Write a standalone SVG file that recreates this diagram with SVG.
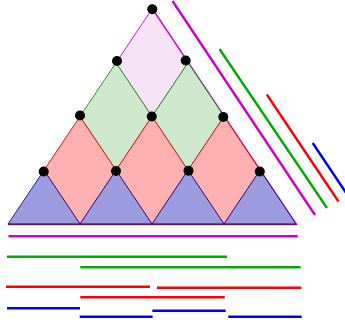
<svg xmlns="http://www.w3.org/2000/svg" width="345" height="323" viewBox="0 0 345 323">
<style>
.pu{fill:#f6e3f6;stroke:#c81ec8;stroke-width:1}
.gr{fill:#cde8cd;stroke:#2a9a2a;stroke-width:1}
.rd{fill:#ffb1b1;stroke:#f01010;stroke-width:1}
.bl{fill:#9b9bde;stroke:#2020a8;stroke-width:1}
.dot{fill:#000}
.l{fill:none;stroke-width:2.4;stroke-linecap:butt}
.m{stroke:#cc00cc}.g{stroke:#00aa00}.r{stroke:#ff0000}.b{stroke:#0000ff}
</style>
<rect width="345" height="323" fill="#fff"/>
<g id="outline">
<polyline points="152.8,9 296.8,224.6 8,224.6" fill="none" stroke="#c000c0" stroke-width="1.2"/>
</g>
<g id="shapes">
<polygon id="purple-diamond" class="pu" points="152,9 116,62.75 152,116.5 188,62.75"/>
<polygon id="green-diamond-1" class="gr" points="116,62.75 80,116.5 116,170.25 152,116.5"/>
<polygon id="green-diamond-2" class="gr" points="188,62.75 152,116.5 188,170.25 224,116.5"/>
<polygon id="red-diamond-1" class="rd" points="80,116.5 44,170.25 80,224 116,170.25"/>
<polygon id="red-diamond-2" class="rd" points="152,116.5 116,170.25 152,224 188,170.25"/>
<polygon id="red-diamond-3" class="rd" points="224,116.5 188,170.25 224,224 260,170.25"/>
<polygon id="blue-tri-1" class="bl" points="44,170.25 8,224 80,224"/>
<polygon id="blue-tri-2" class="bl" points="116,170.25 80,224 152,224"/>
<polygon id="blue-tri-3" class="bl" points="188,170.25 152,224 224,224"/>
<polygon id="blue-tri-4" class="bl" points="260,170.25 224,224 296,224"/>
<line x1="8" y1="224.3" x2="296" y2="224.3" stroke="#6a0a6a" stroke-width="1.2"/>
</g>
<g id="dots">
<circle class="dot" cx="152.3" cy="9.3" r="5"/>
<circle class="dot" cx="117" cy="61" r="5"/>
<circle class="dot" cx="185.7" cy="60.5" r="5"/>
<circle class="dot" cx="80" cy="115.5" r="5"/>
<circle class="dot" cx="151.8" cy="116.5" r="5"/>
<circle class="dot" cx="223.3" cy="117" r="5"/>
<circle class="dot" cx="43.7" cy="171.5" r="5"/>
<circle class="dot" cx="116" cy="171" r="5"/>
<circle class="dot" cx="188.5" cy="170.8" r="5"/>
<circle class="dot" cx="259.8" cy="171.5" r="5"/>
</g>
<g id="connectors">
<line class="l m" x1="172.5" y1="1" x2="315" y2="215"/>
<line class="l g" x1="219.5" y1="49" x2="327" y2="208"/>
<line class="l r" x1="266.8" y1="94.5" x2="338.5" y2="201.5"/>
<line class="l b" x1="312.7" y1="143" x2="348.7" y2="196.8"/>
<line class="l m" x1="8.5" y1="236.3" x2="297.7" y2="236.3"/>
<line class="l g" x1="7" y1="256.7" x2="227" y2="256.7"/>
<line class="l g" x1="80.3" y1="267.3" x2="300.7" y2="267.3"/>
<line class="l r" x1="6" y1="286.7" x2="150" y2="286.7"/>
<line class="l r" x1="157" y1="287.7" x2="301.3" y2="287.7"/>
<line class="l r" x1="80.3" y1="297.3" x2="224.7" y2="297.3"/>
<line class="l b" x1="7" y1="308.3" x2="80" y2="308.3"/>
<line class="l b" x1="79.7" y1="316.7" x2="152.7" y2="316.7"/>
<line class="l b" x1="152.3" y1="310.7" x2="225.7" y2="310.7"/>
<line class="l b" x1="228.3" y1="316.7" x2="301.7" y2="316.7"/>
</g>
</svg>
